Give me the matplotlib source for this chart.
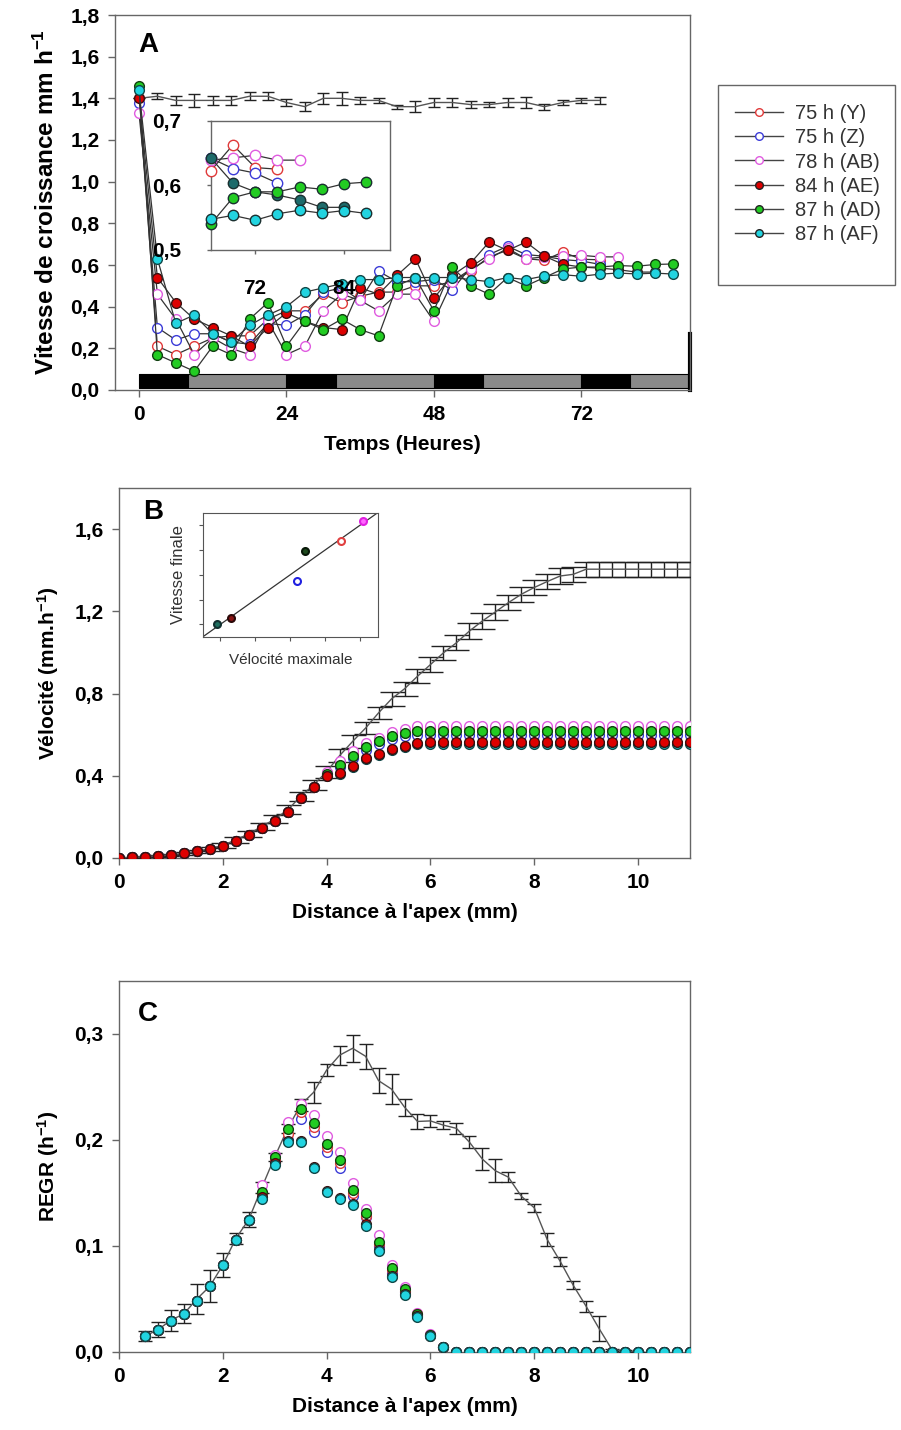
import numpy as np
import matplotlib
matplotlib.use('Agg')
import matplotlib.pyplot as plt
from matplotlib.ticker import FuncFormatter
from matplotlib.lines import Line2D
from matplotlib.patches import Rectangle

plt.rcParams['font.family'] = ['Liberation Sans', 'DejaVu Sans']
plt.rcParams['mathtext.fontset'] = 'custom'
plt.rcParams['mathtext.rm'] = 'Liberation Sans:bold'
plt.rcParams['mathtext.default'] = 'rm'

# ---------------- panel A : growth rate vs time ----------------
t_mean = np.arange(0, 76, 3)
mean_A = [1.40, 1.41, 1.39, 1.39, 1.39, 1.39, 1.41, 1.41, 1.38, 1.36, 1.40, 1.40, 1.39,
          1.39, 1.36, 1.36, 1.38, 1.38, 1.37, 1.37, 1.38, 1.38, 1.36, 1.38, 1.39, 1.39]
err_A = [0.0, 0.015, 0.02, 0.03, 0.02, 0.02, 0.02, 0.02, 0.015, 0.02, 0.025, 0.03, 0.015,
         0.01, 0.01, 0.025, 0.02, 0.02, 0.015, 0.01, 0.02, 0.025, 0.015, 0.01, 0.01, 0.015]

A_Y = [1.40, 0.21, 0.17, 0.21, 0.25, 0.26, 0.26, 0.34, 0.38, 0.38, 0.46, 0.42, 0.45, 0.47,
       0.47, 0.50, 0.50, 0.52, 0.57, 0.64, 0.67, 0.63, 0.6225, 0.6625, 0.6275, 0.625]
A_Z = [1.38, 0.30, 0.24, 0.27, 0.27, 0.23, 0.22, 0.32, 0.31, 0.36, 0.47, 0.49, 0.43, 0.57,
       0.52, 0.52, 0.53, 0.48, 0.59, 0.65, 0.69, 0.65, 0.642, 0.626, 0.619, 0.6035]
A_AB = [1.33, 0.46, 0.34, 0.17, 0.25, 0.20, 0.17, 0.33, 0.17, 0.21, 0.38, 0.46, 0.43, 0.38,
        0.46, 0.46, 0.33, 0.52, 0.58, 0.63, 0.68, 0.63, 0.639, 0.6425, 0.6465, 0.639, 0.639]
A_AE = [1.40, 0.54, 0.42, 0.34, 0.30, 0.26, 0.21, 0.30, 0.37, 0.33, 0.30, 0.29, 0.49, 0.46,
        0.55, 0.63, 0.44, 0.55, 0.61, 0.71, 0.67, 0.71, 0.6425, 0.6035, 0.59, 0.585, 0.5775,
        0.566, 0.566]
A_AD = [1.46, 0.17, 0.13, 0.09, 0.21, 0.17, 0.34, 0.42, 0.21, 0.33, 0.29, 0.34, 0.29, 0.26,
        0.50, 0.54, 0.38, 0.59, 0.50, 0.46, 0.54, 0.50, 0.54, 0.581, 0.59, 0.59, 0.5975,
        0.594, 0.6025, 0.605]
A_AF = [1.44, 0.63, 0.32, 0.36, 0.27, 0.23, 0.31, 0.36, 0.40, 0.47, 0.49, 0.51, 0.53, 0.53,
        0.54, 0.54, 0.54, 0.54, 0.53, 0.52, 0.54, 0.53, 0.5475, 0.5535, 0.546, 0.556, 0.5615,
        0.557, 0.561, 0.5565]

nights = [0, 24, 48, 72]
days = [8, 32, 56, 80]
inset_start = 66

labels = ['75 h (Y)', '75 h (Z)', '78 h (AB)', '84 h (AE)', '87 h (AD)', '87 h (AF)']
edge_cols = ['#e03a3a', '#3c3cd8', '#e05ce0', '#3a1010', '#104010', '#104848']
face_cols = ['white', 'white', 'white', '#dd0000', '#22cc22', '#22d4e0']
inset_face = ['white', 'white', 'white', '#1d6b6b', '#22cc22', '#22d4e0']

# ---------------- panel B : velocity profile ----------------
dist_B = np.arange(0, 11.01, 0.25)
mean_B = [0, 0.003, 0.007, 0.011, 0.016, 0.022, 0.033, 0.045, 0.062, 0.088, 0.117, 0.153,
          0.189, 0.234, 0.30, 0.356, 0.42, 0.498, 0.567, 0.632, 0.706, 0.774, 0.823, 0.884,
          0.941, 0.998, 1.047, 1.104, 1.153, 1.197, 1.242, 1.283, 1.316, 1.345, 1.372, 1.38,
          1.405] + [1.405] * 8
err_B = [0, 0.002, 0.003, 0.004, 0.005, 0.006, 0.008, 0.01, 0.012, 0.015, 0.016, 0.018,
         0.02, 0.022, 0.022, 0.025, 0.03, 0.03, 0.03, 0.03, 0.03, 0.035, 0.035, 0.035,
         0.035, 0.035, 0.037, 0.037, 0.037, 0.037, 0.037, 0.037, 0.037, 0.037, 0.037,
         0.037, 0.037] + [0.037] * 8

vel_early = [0, 0.003, 0.007, 0.011, 0.016, 0.022, 0.033, 0.044, 0.06, 0.085, 0.112, 0.145,
             0.18, 0.225, 0.29, 0.345]
B_Y = vel_early + [0.415, 0.46, 0.505, 0.545, 0.575, 0.60, 0.615, 0.625] + [0.63] * 21
B_Z = vel_early + [0.41, 0.445, 0.485, 0.525, 0.555, 0.578, 0.592, 0.598] + [0.60] * 21
B_AB = vel_early + [0.42, 0.47, 0.52, 0.56, 0.585, 0.614, 0.628, 0.64] + [0.644] * 21
B_AE = vel_early + [0.40, 0.413, 0.449, 0.486, 0.507, 0.532, 0.546, 0.56] + [0.562] * 21
B_AD = vel_early + [0.41, 0.453, 0.497, 0.538, 0.567, 0.592, 0.608, 0.616] + [0.62] * 21
B_AF = vel_early + [0.40, 0.41, 0.445, 0.48, 0.50, 0.525, 0.54, 0.553] + [0.556] * 21

# inset B : final vs max velocity (relative units)
vmax_in = [0.081, 0.163, 0.537, 0.584, 0.79, 0.914]
vfin_in = [0.099, 0.153, 0.452, 0.691, 0.772, 0.933]
inB_face = ['#1f6f60', '#8a1515', 'white', '#1e4a1e', 'white', '#ff66ff']
inB_edge = ['#123030', '#2a0808', '#2020e0', '#081808', '#e04040', '#e020e0']

# ---------------- panel C : REGR ----------------
dist_Cm = np.arange(0.5, 10.01, 0.25)
mean_C = [0.015, 0.021, 0.030, 0.036, 0.050, 0.062, 0.082, 0.107, 0.125, 0.155, 0.184,
          0.211, 0.233, 0.245, 0.266, 0.280, 0.2865, 0.279, 0.256, 0.248, 0.231, 0.2175,
          0.218, 0.214, 0.211, 0.198, 0.182, 0.171, 0.165, 0.147, 0.136, 0.106, 0.0855,
          0.063, 0.043, 0.022, 0.002, 0.001, 0.0]
err_C = [0.005, 0.007, 0.01, 0.009, 0.014, 0.015, 0.011, 0.005, 0.007, 0.005, 0.004, 0.004,
         0.006, 0.01, 0.006, 0.009, 0.013, 0.012, 0.012, 0.014, 0.008, 0.007, 0.006, 0.004,
         0.005, 0.006, 0.01, 0.011, 0.005, 0.003, 0.004, 0.006, 0.004, 0.004, 0.005, 0.012,
         0.001, 0.001, 0.0]

dist_C = np.arange(0.5, 11.01, 0.25)
regr_early = [0.015, 0.021, 0.029, 0.036, 0.048, 0.062, 0.082, 0.106, 0.125]
C_AB = regr_early + [0.158, 0.186, 0.217, 0.234, 0.224, 0.204, 0.189, 0.159, 0.135, 0.110,
                     0.082, 0.061, 0.037, 0.017, 0.005] + [0.0] * 19
C_Y = regr_early + [0.150, 0.182, 0.206, 0.226, 0.212, 0.193, 0.178, 0.150, 0.128, 0.102,
                    0.077, 0.058, 0.036, 0.016, 0.005] + [0.0] * 19
C_Z = regr_early + [0.146, 0.178, 0.200, 0.220, 0.208, 0.189, 0.174, 0.147, 0.127, 0.100,
                    0.075, 0.057, 0.035, 0.016, 0.005] + [0.0] * 19
C_AD = regr_early + [0.151, 0.184, 0.210, 0.229, 0.216, 0.196, 0.181, 0.153, 0.131, 0.104,
                     0.079, 0.059, 0.036, 0.016, 0.005] + [0.0] * 19
C_AE = regr_early + [0.146, 0.178, 0.199, 0.199, 0.175, 0.152, 0.145, 0.140, 0.121, 0.096,
                     0.072, 0.055, 0.034, 0.015, 0.005] + [0.0] * 19
C_AF = regr_early + [0.144, 0.176, 0.198, 0.198, 0.174, 0.151, 0.144, 0.139, 0.119, 0.095,
                     0.071, 0.054, 0.033, 0.015, 0.005] + [0.0] * 19

comma = FuncFormatter(lambda v, p: ('%.1f' % v).replace('.', ','))
TICK = 15
LAB = 15
spine_col = '#666666'


def style(ax):
    for s in ax.spines.values():
        s.set_color(spine_col)
        s.set_linewidth(1.0)
    ax.tick_params(direction='out', length=5, width=1, color=spine_col,
                   labelsize=TICK, pad=6)
    for lb in ax.get_xticklabels() + ax.get_yticklabels():
        lb.set_fontweight('bold')


fig = plt.figure(figsize=(9.01, 14.30), dpi=100)

# ===== A =====
axA = fig.add_axes([115 / 901, 1 - 390 / 1430, 575 / 901, 375 / 1430])
axA.broken_barh([(n, 8) for n in nights], (0.01, 0.065), facecolors='black',
                edgecolor='black', lw=0.8)
axA.broken_barh([(d, 16) for d in days], (0.01, 0.065), facecolors='#8a8a8a',
                edgecolor='black', lw=0.8)
axA.errorbar(t_mean, mean_A, yerr=err_A, color='#555555', lw=1.0, ecolor='#222222',
             elinewidth=1.0, capsize=4.5, capthick=1.0, zorder=3)
seriesA = [A_Y, A_Z, A_AB, A_AE, A_AD, A_AF]
for i, s in enumerate(seriesA):
    tt = np.arange(0, 3 * len(s), 3)
    axA.plot(tt, s, '-o', color='#333333', lw=0.9, ms=7, mfc=face_cols[i],
             mec=edge_cols[i], mew=1.0, zorder=4 + i)
axA.set_xlim(-3.9, 89.7)
axA.set_ylim(0, 1.8)
axA.set_xticks([0, 24, 48, 72])
axA.set_yticks(np.arange(0, 1.81, 0.2))
axA.yaxis.set_major_formatter(comma)
axA.axvline(89.7, ymax=0.15, color='black', lw=3, clip_on=False)
axA.set_xlabel('Temps (Heures)', fontsize=LAB, fontweight='bold', labelpad=8)
axA.set_ylabel('Vitesse de croissance mm h$^{-1}$', fontsize=17.5, fontweight='bold',
               labelpad=8)
axA.text(0.04, 0.955, 'A', transform=axA.transAxes, fontsize=20, fontweight='bold',
         va='top', ha='left')
style(axA)

# inset A : last part of the recordings
axAi = fig.add_axes([210.7 / 901, 1 - 250 / 1430, 179.3 / 901, 129.3 / 1430])
for i, s in enumerate(seriesA):
    tt = np.arange(0, 3 * len(s), 3)
    keep = tt >= inset_start
    axAi.plot(tt[keep], np.array(s)[keep], '-o', color='#333333', lw=0.9, ms=7.5,
              mfc=inset_face[i], mec=edge_cols[i] if i < 3 else '#1a3030', mew=1.0,
              zorder=4 + i, clip_on=False)
axAi.set_xlim(66, 90.2)
axAi.set_ylim(0.5, 0.7)
axAi.set_xticks([72, 84])
axAi.set_yticks([0.5, 0.6, 0.7])
axAi.yaxis.set_major_formatter(comma)
style(axAi)
axAi.tick_params(length=3, pad=18)

# legend
fig.patches.append(Rectangle((718 / 901, 1 - 285 / 1430), 177 / 901, 200 / 1430,
                             transform=fig.transFigure, fill=False, ec='#666666', lw=1))
handles = [Line2D([], [], color='#444444', lw=1, marker='o', ms=5.5, mfc=face_cols[i],
                  mec=edge_cols[i] if i < 3 else '#222222') for i in range(6)]
fig.legend(handles, labels, loc='upper left', bbox_to_anchor=(727 / 901, 1 - 96 / 1430),
           frameon=False, fontsize=14.5, handlelength=2.4, labelspacing=0.26,
           handletextpad=0.6, borderaxespad=0, labelcolor='#333333')

# ===== B =====
axB = fig.add_axes([119 / 901, 1 - 858 / 1430, 571 / 901, 370 / 1430])
axB.errorbar(dist_B, mean_B, yerr=err_B, color='#555555', lw=1.0, ecolor='#222222',
             elinewidth=1.0, capsize=9, capthick=1.0, zorder=3)
seriesB = [B_Y, B_Z, B_AB, B_AD, B_AF, B_AE]
orderB = [0, 1, 2, 4, 5, 3]
for s, i in zip(seriesB, orderB):
    axB.plot(dist_B, s, 'o', ms=7, mfc=face_cols[i], mec=edge_cols[i], mew=1.0,
             zorder=4)
axB.set_xlim(0, 11)
axB.set_ylim(0, 1.8)
axB.set_xticks([0, 2, 4, 6, 8, 10])
axB.set_yticks([0, 0.4, 0.8, 1.2, 1.6])
axB.yaxis.set_major_formatter(comma)
axB.set_xlabel("Distance à l'apex (mm)", fontsize=LAB, fontweight='bold', labelpad=8)
axB.set_ylabel('Vélocité (mm.h$^{-1}$)', fontsize=LAB, fontweight='bold', labelpad=10)
axB.text(0.042, 0.97, 'B', transform=axB.transAxes, fontsize=20, fontweight='bold',
         va='top', ha='left')
style(axB)

axBi = fig.add_axes([203 / 901, 1 - 636.7 / 1430, 174.7 / 901, 124 / 1430])
axBi.plot([0, 1], [0, 1], color='#333333', lw=0.9)
for i in range(6):
    axBi.plot(vmax_in[i], vfin_in[i], 'o', ms=5, mfc=inB_face[i], mec=inB_edge[i],
              mew=1.5)
axBi.set_xlim(0, 1)
axBi.set_ylim(0, 1)
axBi.set_xticks([0.1, 0.3, 0.5, 0.7, 0.9])
axBi.set_yticks([0.1, 0.3, 0.5, 0.7, 0.9])
axBi.set_xticklabels([])
axBi.set_yticklabels([])
for s in axBi.spines.values():
    s.set_color('#555555')
axBi.tick_params(direction='out', length=3, color='#555555')
axBi.set_xlabel('Vélocité maximale', fontsize=11, color='#333333', labelpad=5)
axBi.set_ylabel('Vitesse finale', fontsize=12, color='#333333', labelpad=6)

# ===== C =====
axC = fig.add_axes([119 / 901, 1 - 1352 / 1430, 571 / 901, 371 / 1430])
axC.errorbar(dist_Cm, mean_C, yerr=err_C, color='#555555', lw=1.0, ecolor='#222222',
             elinewidth=1.0, capsize=5, capthick=1.0, zorder=3)
seriesC = [C_AB, C_Z, C_Y, C_AD, C_AE, C_AF]
orderC = [2, 1, 0, 4, 3, 5]
for s, i in zip(seriesC, orderC):
    axC.plot(dist_C, s, 'o', ms=7, mfc=face_cols[i], mec=edge_cols[i], mew=1.0,
             zorder=4)
axC.set_xlim(0, 11)
axC.set_ylim(0, 0.35)
axC.set_xticks([0, 2, 4, 6, 8, 10])
axC.set_yticks([0, 0.1, 0.2, 0.3])
axC.yaxis.set_major_formatter(comma)
axC.set_xlabel("Distance à l'apex (mm)", fontsize=LAB, fontweight='bold', labelpad=8)
axC.set_ylabel('REGR (h$^{-1}$)', fontsize=LAB, fontweight='bold', labelpad=10)
axC.text(0.033, 0.945, 'C', transform=axC.transAxes, fontsize=20, fontweight='bold',
         va='top', ha='left')
style(axC)

fig.savefig('out.png', dpi=100)
